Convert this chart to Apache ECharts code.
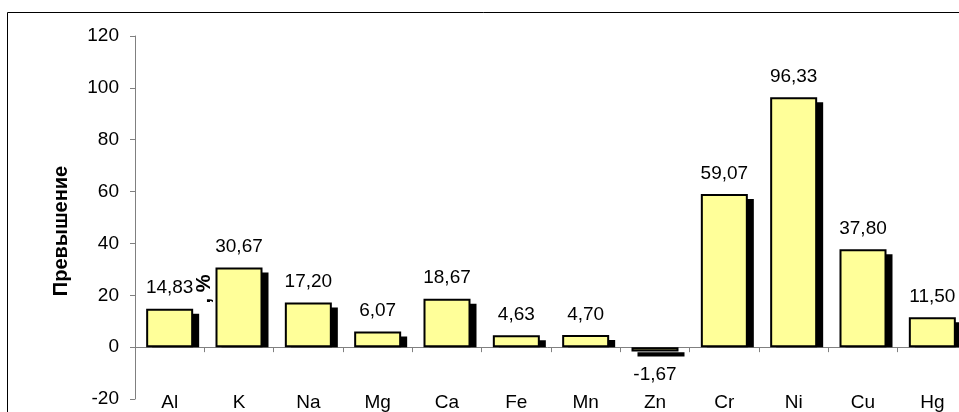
<!DOCTYPE html>
<html>
<head>
<meta charset="utf-8">
<script src="https://cdn.jsdelivr.net/npm/echarts@6/dist/echarts.min.js"></script>
<style>
  html, body { margin: 0; padding: 0; background: #fff; }
  #chart { width: 959px; height: 412px; }
</style>
</head>
<body>
<div id="chart"></div>
<script>
// Elements along the x axis
const elements = ['Al', 'K', 'Na', 'Mg', 'Ca', 'Fe', 'Mn', 'Zn', 'Cr', 'Ni', 'Cu', 'Hg'];
// Excess over the norm, %
const excess = [14.83, 30.67, 17.20, 6.07, 18.67, 4.63, 4.70, -1.67, 59.07, 96.33, 37.80, 11.50];
// Value axis ticks
const yMin = -20, yMax = 120, yStep = 20;

const FONT = '"Liberation Sans", Arial, sans-serif';
const BAR_W = 47;          // bar width, px
const SHADOW = [6, 5];     // drop shadow offset, px
const fmt = v => v.toFixed(2).replace('.', ',');

const chart = echarts.init(document.getElementById('chart'), null, { renderer: 'canvas' });

// Solid drop shadow behind each bar; for bars above zero it stops at the zero line
function renderShadow(params, api) {
  const i = api.value(0);
  const v = api.value(1);
  const top = api.coord([i, v]);
  const base = api.coord([i, 0]);
  const x = top[0] - BAR_W / 2 + SHADOW[0];
  let y0, y1;
  if (v >= 0) {
    y0 = top[1] + SHADOW[1];
    y1 = base[1];
  } else {
    y0 = base[1] + SHADOW[1];
    y1 = top[1] + SHADOW[1];
  }
  return {
    type: 'rect',
    shape: { x: x, y: y0, width: BAR_W, height: Math.max(0, y1 - y0) },
    style: { fill: '#000' }
  };
}

chart.setOption({
  animation: false,
  backgroundColor: '#ffffff',
  grid: { left: 135, top: 36, width: 832, height: 363, containLabel: false, outerBoundsMode: 'none' },
  xAxis: {
    type: 'category',
    data: elements,
    boundaryGap: true,
    axisLine: { onZero: true, lineStyle: { color: '#808080', width: 1 } },
    axisTick: { show: true, length: 5, lineStyle: { color: '#808080' } },
    axisLabel: { color: '#000', fontFamily: FONT, fontSize: 19, margin: -6, interval: 0 },
    splitLine: { show: false }
  },
  yAxis: {
    type: 'value',
    min: yMin, max: yMax, interval: yStep,
    axisLine: { show: true, lineStyle: { color: '#808080', width: 1 } },
    axisTick: { show: true, length: 5, lineStyle: { color: '#808080' } },
    axisLabel: { color: '#000', fontFamily: FONT, fontSize: 19, margin: 16 },
    splitLine: { show: false }
  },
  graphic: [
    {
      type: 'rect',
      silent: true,
      shape: { x: 7.5, y: 12.5, width: 1000, height: 500 },
      style: { fill: 'none', stroke: '#000', lineWidth: 1 },
      z: -10
    },
    {
      // value axis title, first line
      type: 'text',
      silent: true,
      x: 61, y: 231,
      rotation: Math.PI / 2,
      style: {
        text: 'Превышение', fill: '#000', font: 'bold 20px ' + FONT,
        align: 'center', verticalAlign: 'middle'
      },
      z: 100
    },
    {
      // value axis title, second line
      type: 'text',
      silent: true,
      x: 204, y: 289,
      rotation: Math.PI / 2,
      style: {
        text: ', %', fill: '#000', font: 'bold 20px ' + FONT,
        align: 'center', verticalAlign: 'middle'
      },
      z: 100
    }
  ],
  series: [
    {
      type: 'custom',
      renderItem: renderShadow,
      data: excess.map((v, i) => [i, v]),
      encode: { x: 0, y: 1 },
      z: 1,
      silent: true
    },
    {
      type: 'bar',
      data: excess.map(v => ({
        value: v,
        label: v < 0 ? { position: 'bottom', distance: 14 } : { position: 'top' }
      })),
      barWidth: BAR_W,
      z: 2,
      itemStyle: {
        color: '#FFFF99',
        borderColor: '#000',
        borderWidth: 2
      },
      label: {
        show: true,
        distance: 11,
        color: '#000',
        fontFamily: FONT,
        fontSize: 19,
        formatter: p => fmt(p.value)
      }
    }
  ]
});
</script>
</body>
</html>
